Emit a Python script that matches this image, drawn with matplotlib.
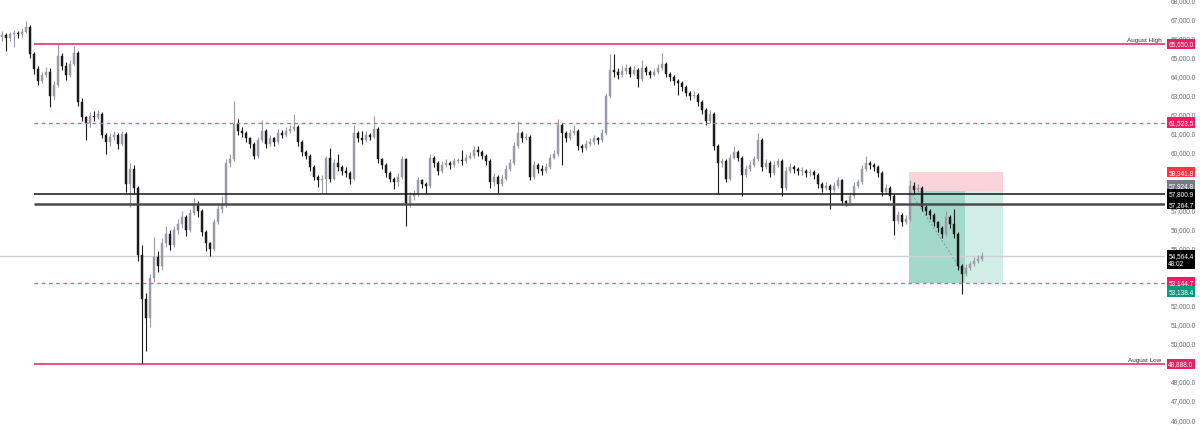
import matplotlib
matplotlib.use("Agg")
import matplotlib.pyplot as plt
from matplotlib.patches import Rectangle

# ---------------- data ----------------
first_open = 66000
closes = [
    66100, 65950, 66150, 66200, 66150, 66300, 66550, 65100, 64350, 63700,
    64000, 64200, 62900, 63500, 65000, 64500, 64000, 64600, 65200, 62600,
    61800, 61500, 61900, 61800, 62000, 60900, 60500, 60800, 60900, 60400,
    60950, 58300, 59100, 58100, 54600, 52300, 51300, 53400, 54500, 54000,
    55200, 55700, 55100, 55900, 56200, 56600, 55900, 56800, 57200, 56900,
    55800, 55200, 54900, 56300, 57000, 57200, 59400, 59600, 61450, 61100,
    61000, 60700, 60400, 59800, 60600, 61100, 60400, 60700, 60500, 61000,
    60900, 61100, 61200, 61300, 60500, 60000, 59800, 59200, 58700, 58500,
    58600, 59700, 58600, 59400, 59200, 59000, 58900, 58600, 61000, 60700,
    60600, 60900, 60800, 61200, 59600, 59300, 58900, 58600, 58400, 58700,
    59600, 57300, 57700, 57800, 58500, 58300, 58200, 59700, 59400, 59000,
    59300, 59400, 59300, 59500, 59550, 59500, 59700, 59800, 60100, 60000,
    59800, 59500, 58400, 58700, 58300, 58600, 59100, 59400, 60300, 61000,
    60700, 60800, 58700, 59300, 59100, 59000, 59200, 59700, 59900, 61400,
    61000, 60700, 61000, 61100, 60300, 60200, 60400, 60500, 60700, 60600,
    61000, 62900, 64300, 64200, 64000, 64250, 64400, 64100, 64300, 63800,
    64400, 64200, 64050, 64200, 64400, 64600, 64100, 63900, 63700, 63600,
    63400, 63100, 62900, 63000, 62600, 62200, 61600, 62000, 60300, 59400,
    59500, 58600, 59700, 60000, 59700, 58800, 59100, 59300, 59600, 60600,
    59200, 59400, 58900, 59300, 59500, 58100, 59000, 59200, 59100, 59000,
    59000, 58900, 58950, 58800, 58300, 58100, 58200, 58000, 58200, 58500,
    57400, 57300, 57700, 58200, 58400, 59100, 59400, 59300, 59200, 58900,
    57900, 58100, 57700, 56400, 56700, 56300, 56500, 58200, 58000, 58100,
    57100, 56900, 56700, 56300, 56000, 55700, 56600, 56200, 55700, 54000,
    53600, 53900, 54100, 54300, 54400, 54564.4,
]
highs = [
    66350, 66200, 66300, 66400, 66350, 66500, 66850, 66650, 65250, 64500,
    64200, 64450, 64400, 63700, 65650, 65200, 64700, 64800, 65550, 65300,
    62800, 61900, 62100, 62150, 62200, 62100, 61000, 61000, 61100, 61000,
    61100, 61050, 59400, 59300, 58200, 55100, 52600, 53600, 55550, 54800,
    55500, 56100, 55900, 56100, 56500, 56900, 56700, 57000, 57600, 57400,
    57000, 55900, 55300, 56500, 57300, 57700, 59600, 59900, 62650, 61700,
    61300, 61100, 60800, 60500, 60800, 61650, 61200, 60900, 60800, 61200,
    61150, 61300, 61400, 62000, 61400, 60600, 60100, 59900, 59300, 58800,
    58800, 59800, 60200, 59600, 59900, 59300, 59200, 59000, 61400, 61100,
    61100, 61100, 61000, 61900, 61300, 59700, 59400, 59000, 58700, 58900,
    59800, 59700, 57900, 58000, 58700, 58600, 58400, 59900, 59800, 59500,
    59500, 59600, 59500, 59700, 59700, 60100, 59900, 60000, 60300, 60300,
    60100, 59900, 59600, 58900, 58800, 58800, 59300, 59600, 60500, 61600,
    61100, 61000, 60900, 59500, 59400, 59300, 59400, 59900, 60100, 61700,
    61500, 61100, 61200, 61400, 61200, 60400, 60600, 60700, 60900, 60800,
    61200, 63100, 65150, 65100, 64400, 64500, 64600, 64500, 64500, 64400,
    64800, 64500, 64300, 64400, 64600, 65200, 64700, 64200, 64000, 63800,
    63700, 63500, 63200, 63200, 63100, 62700, 62300, 62200, 62100, 60400,
    59700, 59600, 59900, 60300, 60100, 59800, 59300, 59500, 59800, 61000,
    60700, 59600, 59500, 59500, 59700, 59600, 59200, 59400, 59300, 59200,
    59200, 59100, 59100, 59050, 58900, 58400, 58400, 58300, 58400, 58700,
    58600, 57500, 57900, 58400, 58600, 59300, 59800, 59500, 59400, 59300,
    59000, 58300, 58200, 57800, 56900, 56800, 56700, 58500, 58400, 58300,
    58200, 57200, 57000, 56800, 56400, 56100, 56900, 56700, 57000, 55800,
    54100, 54100, 54300, 54500, 54600, 54750,
]
lows = [
    65800, 65300, 65800, 65500, 65950, 66000, 66200, 64900, 64100, 63500,
    63600, 63900, 62350, 62700, 63400, 64300, 63750, 63900, 64500, 62400,
    61600, 60600, 61300, 61600, 61700, 60700, 59900, 60300, 60600, 60150,
    60300, 57900, 57100, 57800, 54300, 48900, 49550, 50800, 53200, 53700,
    53800, 55000, 54850, 55000, 55700, 56000, 55600, 55800, 56700, 56600,
    55600, 54800, 54550, 54800, 56200, 56800, 57100, 59200, 59500, 60900,
    60800, 60500, 60200, 59600, 59700, 60500, 60200, 60300, 60300, 60400,
    60700, 60800, 61000, 61100, 60300, 59800, 59600, 59000, 58500, 58150,
    57850, 57800, 58400, 58500, 59000, 58800, 58700, 58300, 58500, 60500,
    60400, 60500, 60600, 60700, 59400, 59100, 58700, 58400, 58050, 58200,
    58600, 56100, 57100, 57500, 57700, 58100, 57800, 58100, 59200, 58800,
    58900, 59200, 59100, 59200, 59400, 59300, 59400, 59600, 59700, 59800,
    59600, 59300, 58100, 58200, 57850, 58200, 58500, 59000, 59300, 60200,
    60500, 60600, 58500, 58600, 58900, 58800, 58900, 59100, 59600, 59800,
    59300, 60500, 60600, 60900, 60100, 60000, 60100, 60300, 60400, 60400,
    60500, 60900, 62800, 63900, 63800, 63900, 64100, 63900, 64000, 63400,
    63700, 64000, 63850, 63950, 64100, 64300, 63900, 63700, 63500, 63000,
    63200, 62900, 62700, 62800, 62400, 62000, 61400, 61500, 60100, 57800,
    59200, 58400, 58500, 59600, 59500, 57700, 58700, 59000, 59200, 59500,
    59000, 59100, 58700, 58800, 59200, 57700, 58000, 58900, 58900, 58800,
    58800, 58700, 58750, 58600, 58100, 57900, 58000, 57000, 57900, 58100,
    57200, 57150, 57200, 57600, 58100, 58300, 59000, 59100, 59000, 58700,
    57700, 57800, 57500, 55650, 56200, 56100, 56200, 56400, 57800, 57900,
    56900, 56700, 56500, 56100, 55800, 55500, 55600, 56000, 55500, 53800,
    52550, 53500, 53800, 54000, 54200, 54300,
]

# key levels
aug_high = 65650.0
aug_low = 48888.0
level_61 = 61523.5
level_531 = 53144.7
support_hi = 57800.9
support_lo = 57264.7
last_price = 54564.4
countdown = "48:02"

# short position tool
pos_entry = 57924.8
pos_stop = 58941.8
pos_target = 53138.4
pos_start_bar = 226.75
pos_reached_bar = 240.75
pos_end_bar = 250.25
path_end_bar = 240
path_end_price = 53760

level_start_bar = 8

# axis ticks (those hidden behind price tags in the reference are left blank)
tick_values = list(range(46000, 68001, 1000))
hidden_ticks = [49000, 53000, 54000, 58000, 59000]

# ---------------- figure ----------------
W, H = 1200, 431
fig = plt.figure(figsize=(W / 100, H / 100), dpi=100)
plot_right_px = 1165
ax = fig.add_axes([0, 0, plot_right_px / W, 1])
for s in ax.spines.values():
    s.set_visible(False)

n = len(closes)
xs = list(range(n))
opens = [first_open] + closes[:-1]

x_left = -0.5
x_right = x_left + plot_right_px / 4.0
ax.set_xlim(x_left, x_right)
ax.set_ylim(45430, 68007)

UP = "#999ca4"
DOWN = "#1a1a1a"
cols = [UP if c >= o else DOWN for o, c in zip(opens, closes)]
bottoms = [min(o, c) for o, c in zip(opens, closes)]
heights = [max(abs(c - o), 25) for o, c in zip(opens, closes)]

# position boxes (behind)
ax.add_patch(Rectangle((pos_start_bar, pos_entry), pos_end_bar - pos_start_bar,
                       pos_stop - pos_entry, facecolor="#fbd3d8", edgecolor="none", zorder=0.5))
ax.add_patch(Rectangle((pos_start_bar, pos_target), pos_end_bar - pos_start_bar,
                       pos_entry - pos_target, facecolor="#d1eee6", edgecolor="none", zorder=0.5))
ax.add_patch(Rectangle((pos_start_bar, pos_target), pos_reached_bar - pos_start_bar,
                       pos_entry - pos_target, facecolor="#a3d9ca", edgecolor="none", zorder=0.6))
ax.plot([pos_start_bar + 0.25, path_end_bar], [pos_entry, path_end_price],
        color="#8a8f96", lw=0.7, ls=(0, (2, 2)), zorder=0.7)

# current price line
ax.axhline(last_price, color="#cfd1d6", lw=1.0, zorder=1)

# candles
ax.vlines(xs, lows, highs, colors=cols, lw=0.8, zorder=3)
ax.bar(xs, heights, bottom=bottoms, width=0.66, color=cols, edgecolor=cols,
       linewidth=0.3, zorder=3.1)

# horizontal levels
PINK = "#e91e63"
DASH_PINK = "#ef5b8c"
ax.hlines(aug_high, level_start_bar, x_right, color=PINK, lw=1.1, zorder=4)
ax.hlines(aug_low, level_start_bar, x_right, color=PINK, lw=1.1, zorder=4)
ax.hlines(level_61, level_start_bar, x_right, color=DASH_PINK, lw=1.0,
          linestyles=(0, (2.6, 2.6)), zorder=4)
ax.hlines(level_531, level_start_bar, x_right, color=DASH_PINK, lw=1.0,
          linestyles=(0, (2.6, 2.6)), zorder=4)
ax.hlines(support_hi, level_start_bar, x_right, color="#151515", lw=1.1, zorder=4)
ax.hlines(support_lo, level_start_bar, x_right, color="#4a4a4a", lw=1.8, zorder=4)

ax.text(x_right - 0.9, aug_high + 120, "August High", ha="right", va="bottom",
        fontsize=4.6, color="#333333", family="Liberation Sans", zorder=5)
ax.text(x_right - 0.9, aug_low + 120, "August Low", ha="right", va="bottom",
        fontsize=4.6, color="#333333", family="Liberation Sans", zorder=5)

# y axis
ax.yaxis.tick_right()
ax.set_yticks(tick_values)
ax.set_yticklabels(["" if t in hidden_ticks else f"{t:,.1f}" for t in tick_values],
                   family="Liberation Sans")
ax.tick_params(axis="y", length=0, pad=4.3, labelsize=4.7, labelcolor="#6a6a6a")
ax.set_xticks([])

def price_label(price, text, face, dy_pt=0.0):
    ax.annotate(text, xy=(1, price), xycoords=("axes fraction", "data"),
                xytext=(2.4, dy_pt), textcoords="offset points",
                ha="left", va="center", fontsize=4.7, color="white",
                family="Liberation Sans", linespacing=1.25,
                bbox=dict(boxstyle="square,pad=0.28", fc=face, ec="none"),
                annotation_clip=False, zorder=6)

price_label(aug_high, f"{aug_high:,.1f}", PINK)
price_label(level_61, f"{level_61:,.1f}", PINK)
price_label(pos_stop, f"{pos_stop:,.1f}", "#f23645")
price_label(pos_entry, f"{pos_entry:,.1f}", "#787b86", 4.6)
price_label(support_hi, f"{support_hi:,.1f}", "#000000")
price_label(support_lo, f"{support_lo:,.1f}", "#000000")
price_label(last_price, f"{last_price:,.1f}\n{countdown}", "#000000", -2.7)
price_label(level_531, f"{level_531:,.1f}", PINK)
price_label(pos_target, f"{pos_target:,.1f}", "#089981", -6.3)
price_label(aug_low, f"{aug_low:,.1f}", PINK)

fig.savefig("out.png", dpi=100, facecolor="white")
